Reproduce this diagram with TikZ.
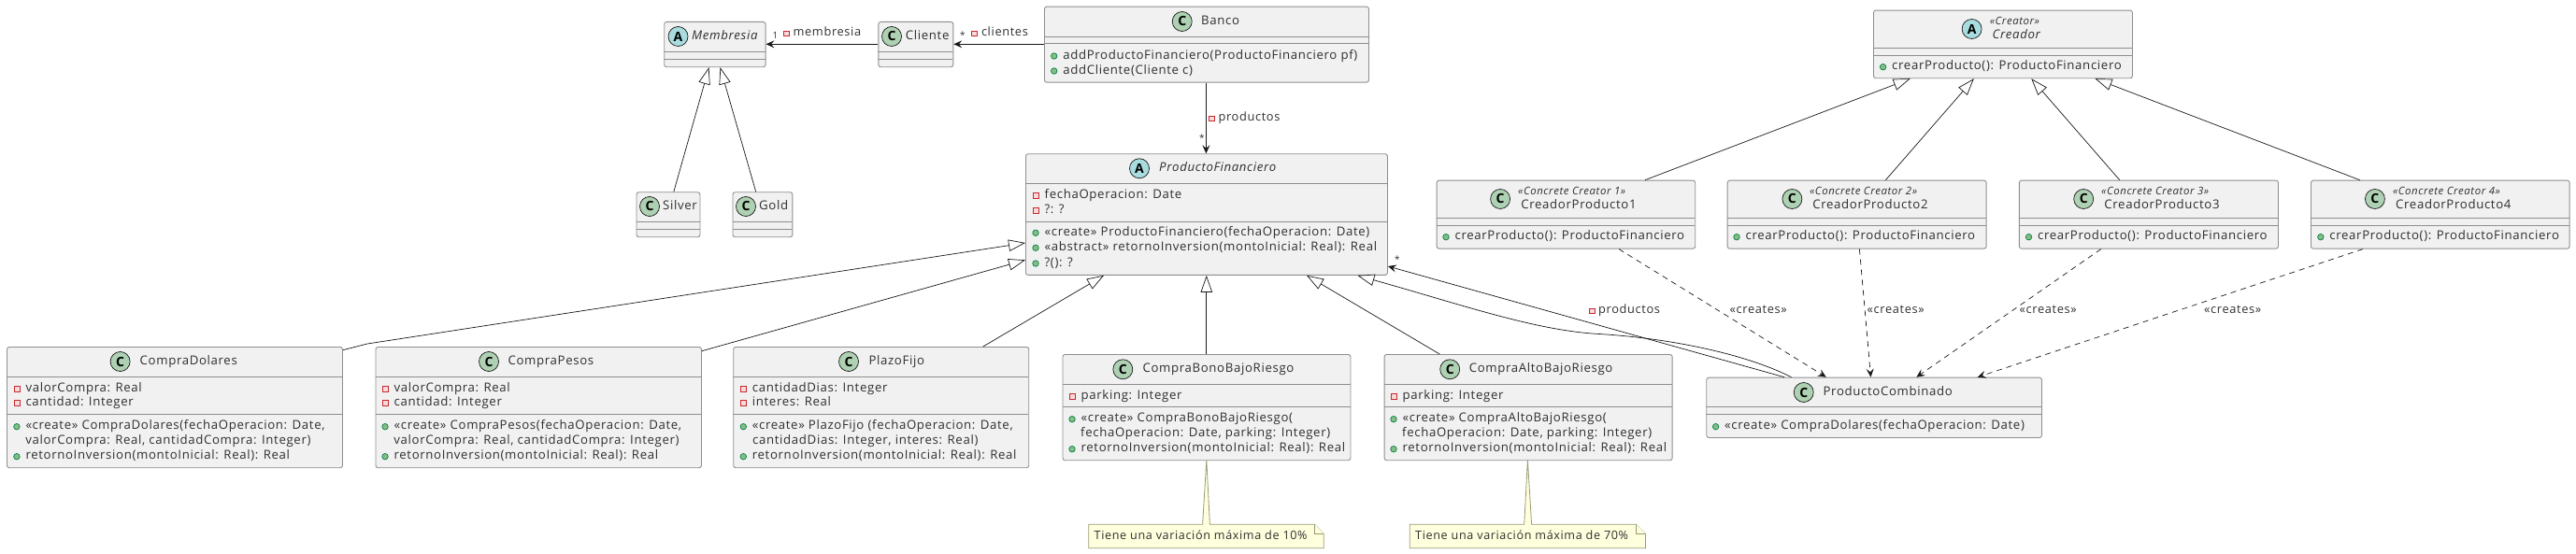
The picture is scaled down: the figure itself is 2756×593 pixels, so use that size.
\documentclass[tikz,border=0pt]{standalone}
\usepackage{fontspec}
\setmainfont{Open Sans}[LetterSpace=5]
\usetikzlibrary{arrows.meta,positioning,calc}
\definecolor{boxfill}{HTML}{F1F1F1}
\definecolor{boxline}{HTML}{8E8E8E}
\definecolor{ink}{HTML}{181818}
\definecolor{spotA}{HTML}{A9DCDF}
\definecolor{spotC}{HTML}{ADD1B2}
\definecolor{privline}{HTML}{C82930}
\definecolor{privfill}{HTML}{F8DADA}
\definecolor{publine}{HTML}{038048}
\definecolor{pubfill}{HTML}{84BE84}
\definecolor{notefill}{HTML}{FEFFDD}
\definecolor{noteline}{HTML}{9A9A78}
\tikzset{
  classnode/.style={draw=boxline,fill=boxfill,line width=0.9pt,rounded corners=2.5pt,anchor=north west,inner sep=0pt},
  divider/.style={draw=boxline,line width=0.9pt},
  spot/.style={circle,draw=ink,line width=0.7pt,minimum size=21pt,inner sep=0pt,font=\fontsize{14}{14}\bfseries\selectfont},
  txt/.style={anchor=west,inner sep=0pt,text=ink!90,text height=9.5pt,text depth=3pt,font=\fontsize{13.2}{16}\selectfont},
  ttl/.style={txt},
  ittl/.style={txt,font=\fontsize{13.2}{16}\itshape\selectfont},
  stereo/.style={txt,font=\fontsize{11.4}{12}\itshape\selectfont},
  small/.style={txt,font=\fontsize{10}{12}\selectfont},
  lbl/.style={txt,font=\fontsize{12.8}{16}\selectfont},
  notetxt/.style={txt,font=\fontsize{12.6}{16}\selectfont},
  privm/.style={rectangle,draw=privline,fill=privfill,line width=0.8pt,minimum size=6pt,inner sep=0pt},
  pubm/.style={circle,draw=publine,fill=pubfill,line width=0.7pt,minimum size=6.5pt,inner sep=0pt},
  gen/.style={draw=ink,line width=0.7pt,-{Triangle[fill=white,length=18pt,width=12.5pt]}},
  assoc/.style={draw=ink,line width=0.8pt,-{Stealth[length=9pt,width=8pt,inset=3.5pt]}},
  dep/.style={draw=ink,line width=0.7pt,dash pattern=on 6pt off 5pt,-{Stealth[length=9pt,width=8pt,inset=3.5pt]}},
  note/.style={draw=noteline,fill=notefill,line width=0.8pt},
}
% name, left, top, right, bottom, first and second divider
\newcommand{\classbox}[7]{
  \node[classnode,minimum width={(#4-#2)*1pt},minimum height={(#5-#3)*1pt}] (#1) at (#2,#3) {};
  \draw[divider] (#2,#6) -- (#4,#6);
  \draw[divider] (#2,#7) -- (#4,#7);
}
\newcommand{\privline}[4]{
  \node[privm] (#1m) at (#2,#3) {};
  \node[txt,right=6pt of #1m] (#1) {#4};
}
\newcommand{\publine}[4]{
  \node[pubm] (#1m) at (#2,#3) {};
  \node[txt,right=5.8pt of #1m] (#1) {#4};
}

\begin{document}
\begin{tikzpicture}[x=1pt,y=-1pt]
  \useasboundingbox (0,0) rectangle (2756,593);
  \classbox{memb}{710.3}{23}{818.6}{71.3}{55}{63.3}
  \node[spot,fill=spotA] (membc) at (725.5,39) {A};
  \node[ittl] (membt) at (740,39) {Membresia};
  \classbox{cli}{939.4}{23}{1019.4}{71.3}{55}{63.3}
  \node[spot,fill=spotC] (clic) at (954,39) {C};
  \node[ttl] (clit) at (968.7,39) {Cliente};
  \classbox{silver}{680.5}{205.3}{748.5}{253.3}{237.3}{245.3}
  \node[spot,fill=spotC] (silverc) at (695,221) {C};
  \node[ttl] (silvert) at (709,221) {Silver};
  \classbox{gold}{783.5}{205.3}{847.4}{253.3}{237.3}{245.3}
  \node[spot,fill=spotC] (goldc) at (798,221) {C};
  \node[ttl] (goldt) at (812,221) {Gold};
  \classbox{banco}{1117}{6.7}{1464}{87.7}{39}{46.7}
  \node[spot,fill=spotC] (bancoc) at (1264.7,23) {C};
  \node[ttl] (bancot) at (1285,23) {Banco};
  \publine{banco1}{1127.7}{60}{addProductoFinanciero(ProductoFinanciero pf)}
  \publine{banco2}{1127.7}{76}{addCliente(Cliente c)}

  \classbox{pf}{1097}{164.3}{1484}{294}{196.7}{237.3}
  \node[spot,fill=spotA] (pfc) at (1219,180.3) {A};
  \node[ittl] (pft) at (1240,180.3) {ProductoFinanciero};
  \privline{pf1}{1108}{209.3}{fechaOperacion: Date}
  \privline{pf2}{1108}{225.3}{?: ?}
  \publine{pf3}{1108}{249.3}{«create» ProductoFinanciero(fechaOperacion: Date)}
  \publine{pf4}{1108}{265.3}{«abstract» retornoInversion(montoInicial: Real): Real}
  \publine{pf5}{1108}{282}{?(): ?}

  \classbox{cdol}{7}{371}{366}{500.3}{403}{443.3}
  \node[spot,fill=spotC] (cdolc) at (128.6,387) {C};
  \node[ttl] (cdolt) at (149.5,387) {CompraDolares};
  \classbox{cpes}{401.5}{371}{750}{500.3}{403}{443.3}
  \node[spot,fill=spotC] (cpesc) at (523,387) {C};
  \node[ttl] (cpest) at (543.4,387) {CompraPesos};
  \foreach \cn/\mx/\cname in {cdol/17.9/CompraDolares,cpes/412/CompraPesos} {
    \privline{\cn1}{\mx}{416}{valorCompra: Real}
    \privline{\cn2}{\mx}{431.7}{cantidad: Integer}
    \publine{\cn3}{\mx}{456.7}{«create» \cname(fechaOperacion: Date,}
    \node[txt] (\cn4) at (\mx+9.2,472.7) {valorCompra: Real, cantidadCompra: Integer)};
    \publine{\cn5}{\mx}{488.7}{retornoInversion(montoInicial: Real): Real}
  }
  \classbox{plazo}{784.3}{371}{1100.3}{500.3}{403}{443.3}
  \node[spot,fill=spotC] (plazoc) at (908,387) {C};
  \node[ttl] (plazot) at (929.3,387) {PlazoFijo};
  \privline{plazo1}{795.3}{416}{cantidadDias: Integer}
  \privline{plazo2}{795.3}{431.7}{interes: Real}
  \publine{plazo3}{795.3}{456.7}{«create» PlazoFijo (fechaOperacion: Date,}
  \node[txt] (plazo4) at (805,472.7) {cantidadDias: Integer, interes: Real)};
  \publine{plazo5}{795.3}{488.7}{retornoInversion(montoInicial: Real): Real}

  \draw[note] (1164.7,561.3) -- (1286.6,561.3) -- (1290.8,492.3) -- (1294.4,561.3) -- (1406.3,561.3) -- (1416.3,571.3) -- (1416.3,586.7) -- (1164.7,586.7) -- cycle;
  \draw[note] (1406.3,561.3) -- (1406.3,571.3) -- (1416.3,571.3);
  \node[notetxt] (note1) at (1170.5,574.3) {Tiene una variación máxima de 10\%};
  \draw[note] (1508.3,561.3) -- (1630.7,561.3) -- (1634.4,492.3) -- (1638.6,561.3) -- (1750.4,561.3) -- (1760.4,571.3) -- (1760.4,586.7) -- (1508.3,586.7) -- cycle;
  \draw[note] (1750.4,561.3) -- (1750.4,571.3) -- (1760.4,571.3);
  \node[notetxt] (note2) at (1514,574.3) {Tiene una variación máxima de 70\%};

  \classbox{bono}{1136.5}{379}{1444.5}{492.3}{411}{435.3}
  \node[spot,fill=spotC] (bonoc) at (1201.3,395.3) {C};
  \node[ttl] (bonot) at (1222.3,395.3) {CompraBonoBajoRiesgo};
  \classbox{alto}{1480.6}{379}{1788.7}{492.3}{411}{435.3}
  \node[spot,fill=spotC] (altoc) at (1551.2,395.3) {C};
  \node[ttl] (altot) at (1571.6,395.3) {CompraAltoBajoRiesgo};
  \foreach \cn/\mx/\cname in {bono/1147/CompraBonoBajoRiesgo,alto/1491/CompraAltoBajoRiesgo} {
    \privline{\cn1}{\mx}{424}{parking: Integer}
    \publine{\cn2}{\mx}{448.7}{«create» \cname(}
    \node[txt] (\cn3) at (\mx+8.9,464.7) {fechaOperacion: Date, parking: Integer)};
    \publine{\cn4}{\mx}{480.7}{retornoInversion(montoInicial: Real): Real}
  }

  \classbox{crea}{2004}{10.7}{2281}{83.3}{51.3}{59.3}
  \node[spot,fill=spotA] (creac) at (2109.6,31) {A};
  \node[stereo] (creas) at (2128.6,23.3) {«Creator»};
  \node[ittl] (creat) at (2131.4,38.3) {Creador};
  \publine{crea1}{2014.6}{71.7}{crearProducto(): ProductoFinanciero}
  \foreach \i/\xa/\xb/\cx/\sx/\mx in {1/1536.6/1813.3/1605.1/1624/1547,2/1847.7/2124.7/1917.4/1935.9/1858,3/2159.9/2437/2229.2/2248/2170.5,4/2472/2748.7/2540.9/2559.8/2482.8} {
    \classbox{cp\i}{\xa}{192.7}{\xb}{265.7}{233.3}{241.3}
    \node[spot,fill=spotC] (cp\i c) at (\cx,213) {C};
    \node[stereo] (cp\i s) at (\sx,205) {«Concrete Creator \i»};
    \node[ttl] (cp\i t) at (\sx+3.2,220.3) {CreadorProducto\i};
    \publine{cp\i m}{\mx}{253.7}{crearProducto(): ProductoFinanciero}
  }

  \classbox{comb}{1825.3}{403.7}{2184}{468}{435.3}{443.3}
  \node[spot,fill=spotC] (combc) at (1929.7,420) {C};
  \node[ttl] (combt) at (1950.4,420) {ProductoCombinado};
  \publine{comb1}{1835.6}{456.7}{«create» CompraDolares(fechaOperacion: Date)}

  \draw[assoc] ([yshift=-24.3pt]cli.north west) -- ([yshift=-24.3pt]memb.north east);
  \node[small] (l1) at (826.5,38.3) {1};
  \node[privm,minimum size=5.5pt] (l2m) at (841.6,36) {};
  \node[lbl] (l2) at (848.4,35.7) {membresia};
  \draw[assoc] ([yshift=-40.6pt]banco.north west) -- ([yshift=-24.3pt]cli.north east);
  \node[small] (l3) at (1027,38) {*};
  \node[privm,minimum size=5.5pt] (l4m) at (1042.4,36) {};
  \node[lbl] (l4) at (1049.8,35.7) {clientes};
  \draw[assoc,line width=0.7pt] ([xshift=173.4pt]banco.south west) -- ([xshift=193.4pt]pf.north west);
  \node[privm,minimum size=5.5pt] (l5m) at (1296.6,126.7) {};
  \node[lbl] (l5) at (1303.4,126.3) {productos};
  \node[small] (l6) at (1283,148) {*};

  \draw[gen] ([xshift=40.3pt]silver.north west) -- ([xshift=48.2pt]memb.south west);
  \draw[gen] ([xshift=25.2pt]gold.north west) -- ([xshift=60.2pt]memb.south west);

  \coordinate (cdolbend) at (393,368);
  \draw[gen] ([yshift=-3.7pt]cdol.north east) -- (cdolbend) -- ([yshift=-95.7pt]pf.north west);
  \draw[gen] ([yshift=-4.7pt]cpes.north east) -- ([yshift=-114pt]pf.north west);
  \draw[gen] ([xshift=267.4pt]plazo.north west) -- ([xshift=84pt]pf.south west);
  \draw[gen] ([xshift=154.3pt]bono.north west) -- ([xshift=193.8pt]pf.south west);
  \draw[gen] ([xshift=59.6pt]alto.north west) -- ([xshift=301pt]pf.south west);
  \draw[gen] ([xshift=91.2pt]comb.north west) .. controls (1870,380) and (1790,362) .. (1707.6,357.3) .. controls (1640,353) and (1560,325) .. ([xshift=355.4pt]pf.south west);
  \draw[assoc,line width=0.7pt] ([xshift=83.7pt]comb.north west) -- ([yshift=-120.7pt]pf.north east);
  \node[small] (l7) at (1492,278) {*};
  \node[privm,minimum size=5.5pt] (l8m) at (1703.4,332.7) {};
  \node[lbl] (l8) at (1710,332.7) {productos};

  \foreach \cn/\a/\b/\c/\d/\lx in {cp1/223.4/39.7/195.4/128.5/1850.5,cp2/169.7/107.8/141.7/176.2/1997.5,cp3/107.8/169.3/87.9/225/2160.5,cp4/52.7/237.5/56/290.4/2358} {
    \draw[gen] ([xshift=\a pt]\cn.north west) -- ([xshift=\b pt]crea.south west);
    \draw[dep] ([xshift=\c pt]\cn.south west) -- ([xshift=\d pt]comb.north west);
    \node[lbl] (\cn l) at (\lx,332.7) {«creates»};
  }
\end{tikzpicture}
\end{document}
